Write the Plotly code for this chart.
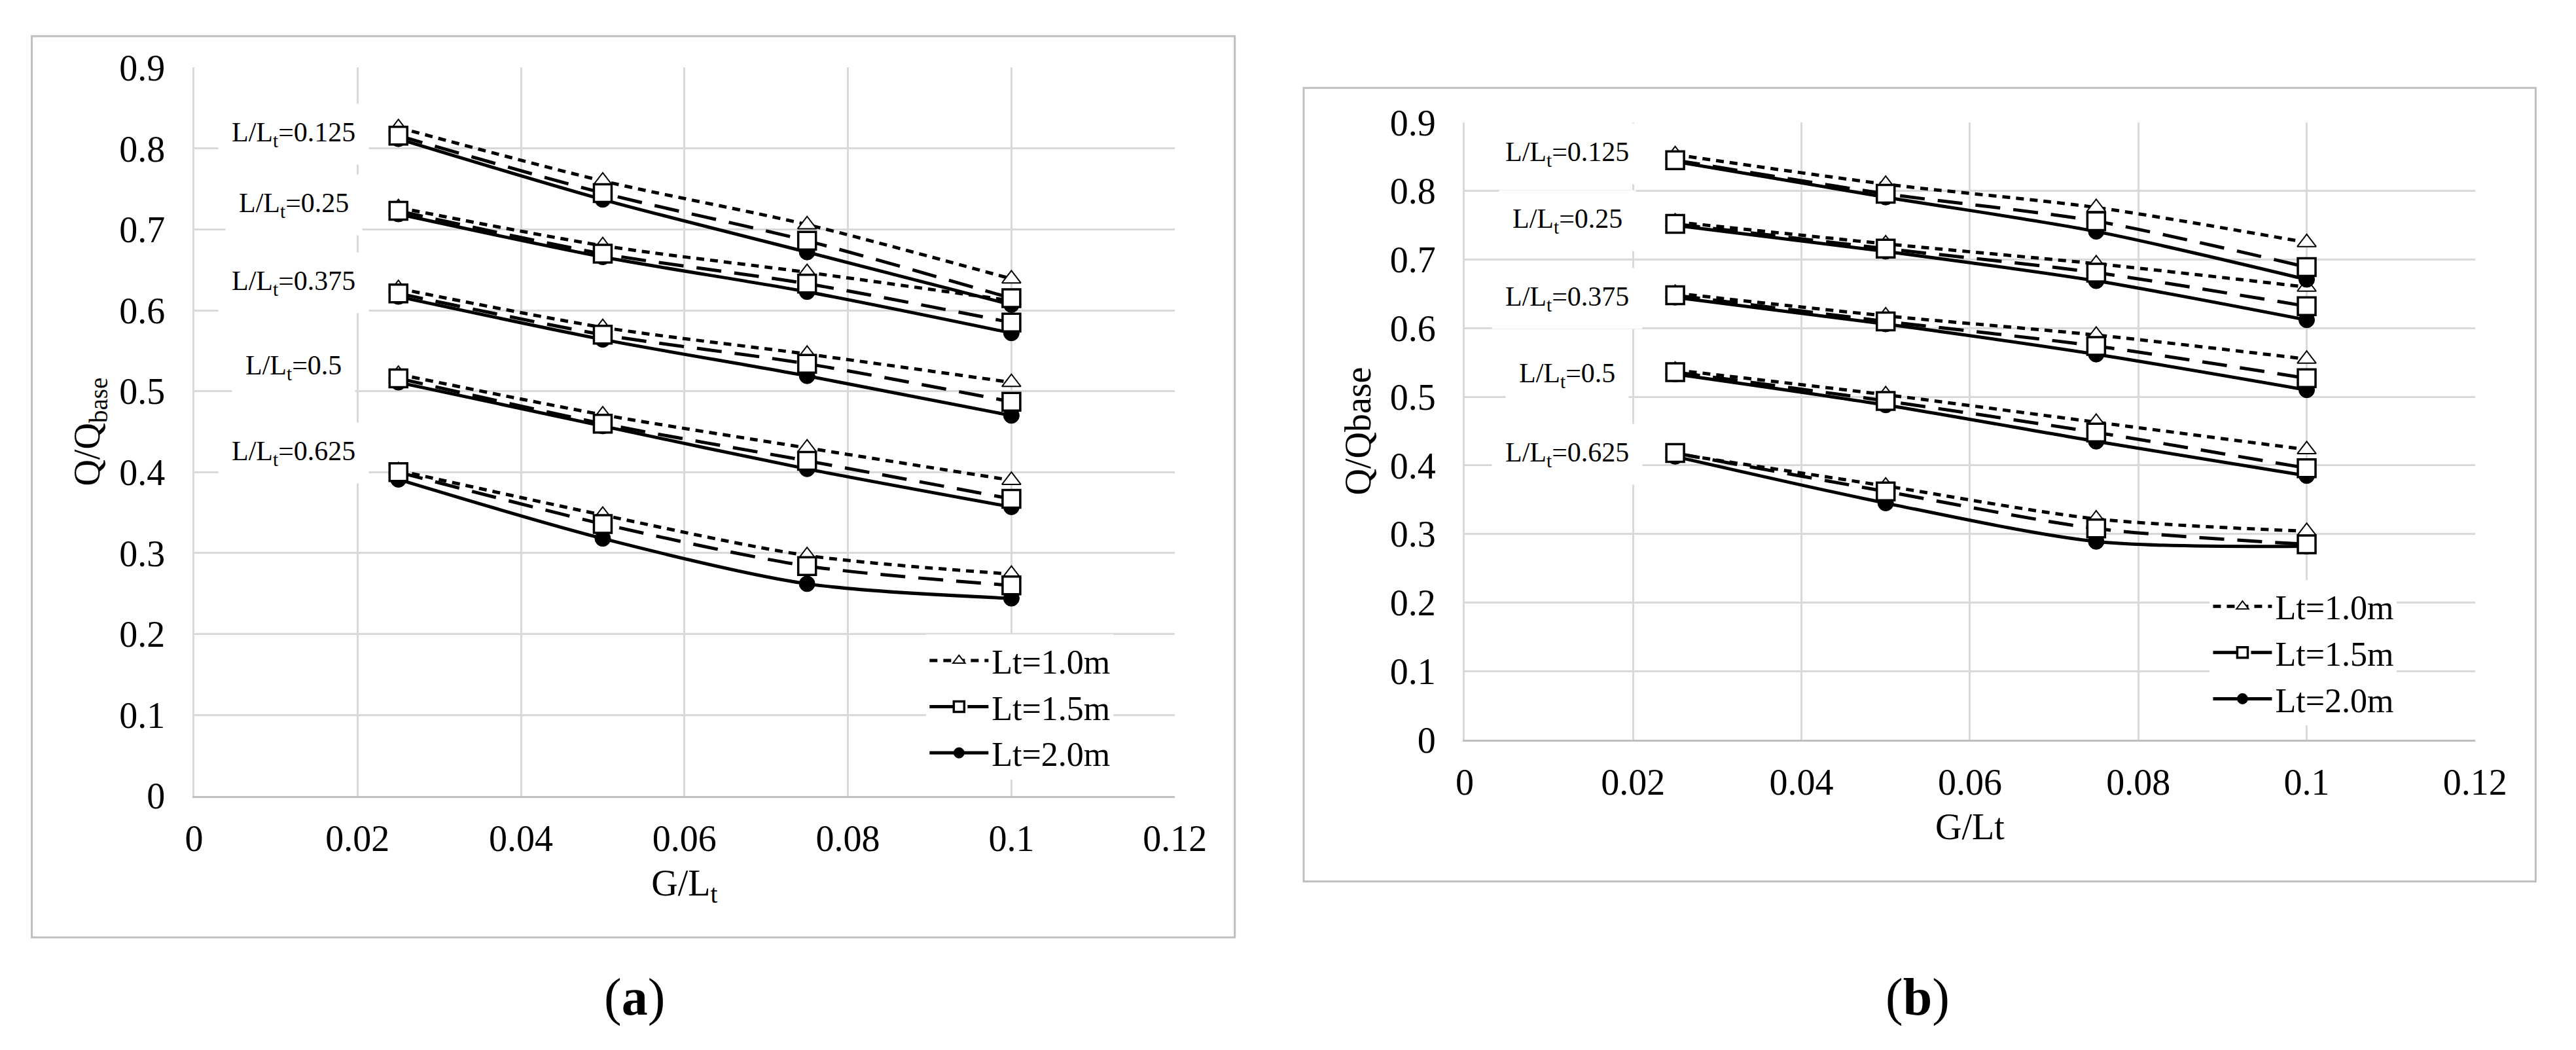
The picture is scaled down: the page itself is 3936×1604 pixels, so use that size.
import plotly.graph_objects as go

# x positions (G/Lt) and the five L/Lt groups
G_LT = [0.025, 0.05, 0.075, 0.1]
L_LT = ["0.125", "0.25", "0.375", "0.5", "0.625"]
SERIES = ["Lt=1.0m", "Lt=1.5m", "Lt=2.0m"]

# panel (a): one row per L/Lt group
A_LT10 = [[0.826, 0.760, 0.706, 0.639],
          [0.727, 0.680, 0.647, 0.612],
          [0.627, 0.579, 0.546, 0.511],
          [0.521, 0.471, 0.430, 0.390],
          [0.402, 0.347, 0.297, 0.274]]
A_LT15 = [[0.816, 0.745, 0.686, 0.615],
          [0.723, 0.670, 0.633, 0.585],
          [0.621, 0.570, 0.534, 0.487],
          [0.516, 0.460, 0.414, 0.367],
          [0.400, 0.336, 0.284, 0.260]]
A_LT20 = [[0.812, 0.737, 0.672, 0.607],
          [0.719, 0.666, 0.623, 0.572],
          [0.617, 0.564, 0.519, 0.470],
          [0.511, 0.457, 0.404, 0.357],
          [0.391, 0.318, 0.262, 0.244]]

# panel (b)
B_LT10 = [[0.853, 0.810, 0.776, 0.725],
          [0.755, 0.723, 0.694, 0.660],
          [0.651, 0.618, 0.590, 0.555],
          [0.539, 0.503, 0.463, 0.423],
          [0.417, 0.370, 0.322, 0.304]]
B_LT15 = [[0.845, 0.796, 0.756, 0.689],
          [0.752, 0.716, 0.681, 0.632],
          [0.648, 0.610, 0.574, 0.527],
          [0.536, 0.494, 0.448, 0.396],
          [0.418, 0.362, 0.308, 0.285]]
B_LT20 = [[0.843, 0.791, 0.741, 0.671],
          [0.750, 0.712, 0.669, 0.612],
          [0.645, 0.606, 0.562, 0.510],
          [0.533, 0.488, 0.435, 0.385],
          [0.413, 0.345, 0.289, 0.282]]

# where the L/Lt tags sit (data coords)
A_LABEL_Y = [0.818, 0.730, 0.634, 0.530, 0.424]
B_LABEL_Y = [0.854, 0.757, 0.643, 0.532, 0.416]
LABEL_X = 0.0122

FONT = "Liberation Serif"
W, H = 3936, 1604


def flatten(rows):
    # one trace per series, groups split by None gaps
    xs, ys = [], []
    for r in rows:
        xs += G_LT + [None]
        ys += r + [None]
    return xs, ys


styles = {
    "Lt=1.0m": dict(dash="12px,9px", marker=dict(symbol="triangle-up", size=25, color="white",
                                                  line=dict(color="black", width=2))),
    "Lt=1.5m": dict(dash="38px,20px", marker=dict(symbol="square", size=27, color="white",
                                                   line=dict(color="black", width=3.5))),
    "Lt=2.0m": dict(dash="solid", marker=dict(symbol="circle", size=24, color="black",
                                               line=dict(color="black", width=1))),
}

fig = go.Figure()

panels = [
    ("x", "y", "legend", {"Lt=1.0m": A_LT10, "Lt=1.5m": A_LT15, "Lt=2.0m": A_LT20}),
    ("x2", "y2", "legend2", {"Lt=1.0m": B_LT10, "Lt=1.5m": B_LT15, "Lt=2.0m": B_LT20}),
]

# draw order: triangles, circles, then squares on top
for xa, ya, lg, data in panels:
    for name in ["Lt=1.0m", "Lt=2.0m", "Lt=1.5m"]:
        xs, ys = flatten(data[name])
        st = styles[name]
        fig.add_trace(go.Scatter(
            x=xs, y=ys, xaxis=xa, yaxis=ya, name=name,
            mode="lines+markers",
            line=dict(color="black", width=5, dash=st["dash"], shape="spline", smoothing=0.8),
            marker=st["marker"],
            legend=lg, legendgroup=lg + name, legendrank=SERIES.index(name) + 1,
            connectgaps=False,
        ))

annotations = []
for xr, yr, ys in [("x", "y", A_LABEL_Y), ("x2", "y2", B_LABEL_Y)]:
    for lab, yv in zip(L_LT, ys):
        annotations.append(dict(
            x=LABEL_X, y=yv, xref=xr, yref=yr, showarrow=False,
            xanchor="center", yanchor="middle",
            text="L/L<sub>t</sub>=" + lab, font=dict(family=FONT, size=42, color="black"),
            bgcolor="white", borderpad=20,
        ))

# panel captions
for cx, txt in [(963, "(<b>a</b>)"), (2955, "(<b>b</b>)")]:
    annotations.append(dict(x=cx / W, y=1 - 1545 / H, xref="paper", yref="paper", showarrow=False,
                            xanchor="center", yanchor="middle",
                            text=txt, font=dict(family=FONT, size=80, color="black")))

tickfont = dict(family=FONT, size=56, color="black")
titlefont = dict(family=FONT, size=56, color="black")


def xaxis(domain, title, anchor):
    return dict(domain=domain, anchor=anchor, range=[0, 0.12], dtick=0.02, tick0=0,
                showgrid=True, gridcolor="#d9d9d9", gridwidth=3, zeroline=False,
                showline=True, linecolor="#bfbfbf", linewidth=3,
                ticks="", ticklabelstandoff=14, tickfont=tickfont,
                title=dict(text=title, font=titlefont, standoff=18))


def yaxis(domain, title, anchor):
    return dict(domain=domain, anchor=anchor, range=[0, 0.9], dtick=0.1, tick0=0,
                showgrid=True, gridcolor="#d9d9d9", gridwidth=3, zeroline=False,
                showline=True, linecolor="#d9d9d9", linewidth=3,
                ticks="", ticklabelstandoff=30, tickfont=tickfont,
                title=dict(text=title, font=titlefont, standoff=12))


legend_common = dict(bgcolor="white", font=dict(family=FONT, size=52, color="black"),
                     xanchor="left", yanchor="top", itemwidth=90, tracegroupgap=8,
                     traceorder="normal")

fig.update_layout(
    width=W, height=H,
    margin=dict(l=0, r=0, t=0, b=0),
    paper_bgcolor="white", plot_bgcolor="white",
    xaxis=xaxis([279 / W, 1802 / W], "G/L<sub>t</sub>", "y"),
    yaxis=yaxis([1 - 1225 / H, 1 - 68 / H], "Q/Q<sub>base</sub>", "x"),
    xaxis2=xaxis([2252 / W, 3821 / W], "G/Lt", "y2"),
    yaxis2=yaxis([1 - 1136 / H, 1 - 155 / H], "Q/Qbase", "x2"),
    legend=dict(x=1416 / W, y=1 - 968 / H, **legend_common),
    legend2=dict(x=3409 / W, y=1 - 882 / H, **legend_common),
    annotations=annotations,
    shapes=[
        dict(type="rect", xref="paper", yref="paper", x0=27 / W, x1=1895 / W,
             y0=1 - 1450 / H, y1=1 - 18 / H, line=dict(color="#bfbfbf", width=3), layer="below"),
        dict(type="rect", xref="paper", yref="paper", x0=2002 / W, x1=3915 / W,
             y0=1 - 1361 / H, y1=1 - 100 / H, line=dict(color="#bfbfbf", width=3), layer="below"),
    ],
)

fig.write_html("out.html")
